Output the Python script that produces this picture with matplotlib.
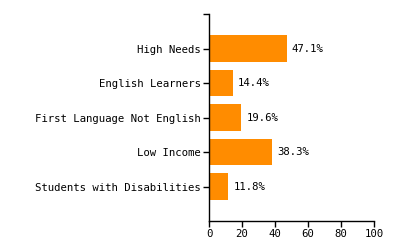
import matplotlib
matplotlib.use("Agg")
import matplotlib.pyplot as plt

categories = ["High Needs", "English Learners", "First Language Not English",
              "Low Income", "Students with Disabilities"]
values = [47.1, 14.4, 19.6, 38.3, 11.8]
xticks = [0, 20, 40, 60, 80, 100]

plt.rcParams['font.family'] = ['DejaVu Sans Mono']
plt.rcParams['font.size'] = 7.7

fig = plt.figure(figsize=(4, 2.5), dpi=100)
ax = fig.add_axes([209 / 400, 1 - 221 / 250, 165 / 400, 207 / 250])

pos = list(range(len(categories)))
ax.barh(pos, values, height=0.78, color="#ff8c00")
for p, v in zip(pos, values):
    ax.text(v + 3, p, "%.1f%%" % v, va="center", ha="left")

ax.set_ylim(4 + 1, -1)
ax.set_xlim(0, 100)
ax.set_yticks(pos)
ax.set_yticklabels(categories)
ax.set_yticks([-1], minor=True)
ax.set_xticks(xticks)

for s in ["top", "right"]:
    ax.spines[s].set_visible(False)
for s in ["left", "bottom"]:
    ax.spines[s].set_linewidth(1)
ax.tick_params(axis="both", which="both", length=4, width=1, pad=2)

fig.savefig("out.png", dpi=100)
